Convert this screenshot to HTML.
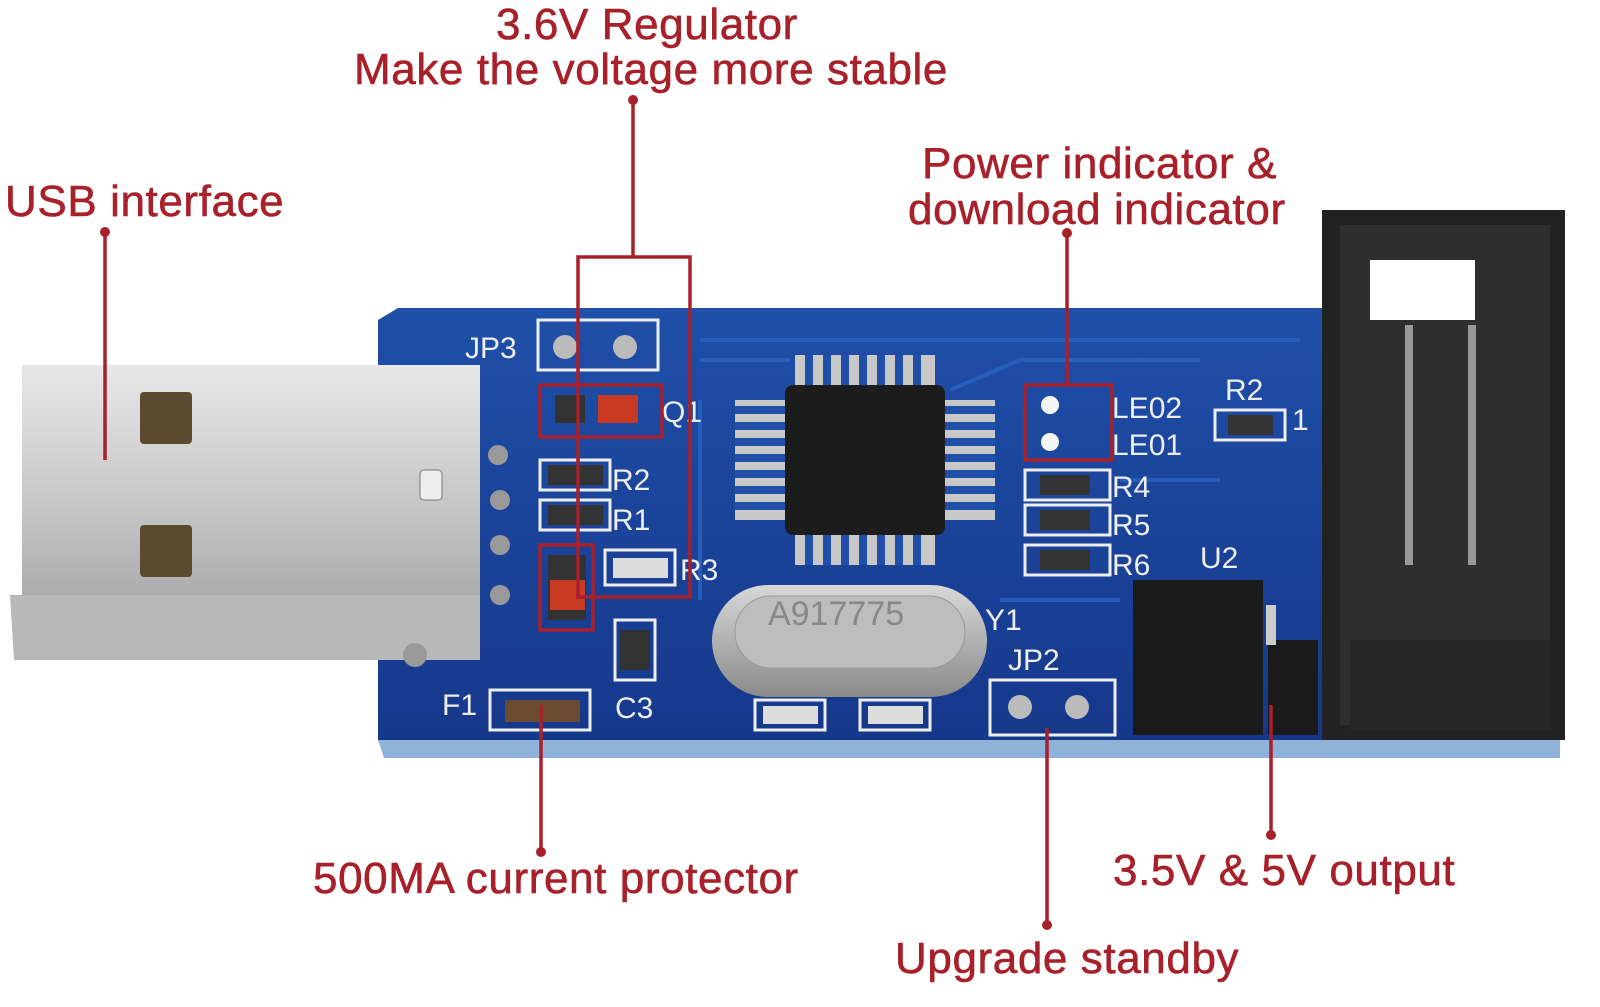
<!DOCTYPE html>
<html><head><meta charset="utf-8">
<style>
html,body{margin:0;padding:0;background:#fff;}
body{width:1600px;height:1007px;position:relative;overflow:hidden;font-family:"Liberation Sans",sans-serif;}
.t{position:absolute;color:#a8202a;font-size:44px;white-space:nowrap;line-height:1;letter-spacing:0.6px;-webkit-text-stroke:0.6px #a8202a;}
svg{position:absolute;left:0;top:0;}
</style></head><body>
<svg width="1600" height="1007" viewBox="0 0 1600 1007">
<defs>
<linearGradient id="pcb" x1="0" y1="0" x2="0" y2="1"><stop offset="0" stop-color="#1f4fa8"/><stop offset="1" stop-color="#15378a"/></linearGradient>
<linearGradient id="usb" x1="0" y1="0" x2="0" y2="1"><stop offset="0" stop-color="#e8e8e8"/><stop offset="0.5" stop-color="#c4c4c4"/><stop offset="1" stop-color="#9a9a9a"/></linearGradient>
<linearGradient id="xt" x1="0" y1="0" x2="0" y2="1"><stop offset="0" stop-color="#d8d8d8"/><stop offset="1" stop-color="#8a8a8a"/></linearGradient>
</defs>
<path d="M398 308 L1330 308 L1330 740 L1560 740 L1560 755 L384 755 L378 740 L378 320 Z" fill="url(#pcb)"/>
<path d="M378 740 L1560 740 L1560 758 L384 758 Z" fill="#8fb3d8"/>
<g stroke="#2a63c0" stroke-width="4" fill="none" opacity="0.8">
<path d="M700 340 L1300 340"/><path d="M700 360 L790 360"/><path d="M950 390 L1020 360 L1200 360"/><path d="M1120 480 L1220 480"/><path d="M700 400 L700 600"/><path d="M1000 600 L1120 600"/>
</g>
<rect x="22" y="365" width="458" height="295" fill="url(#usb)"/>
<path d="M10 595 L480 595 L480 660 L14 660 Z" fill="#b8b8b8"/>
<rect x="140" y="392" width="52" height="52" rx="4" fill="#5a4a30"/>
<rect x="140" y="525" width="52" height="52" rx="4" fill="#5a4a30"/>
<rect x="420" y="470" width="22" height="30" rx="4" fill="#eee" stroke="#777"/>
<g fill="#999"><circle cx="498" cy="455" r="10"/><circle cx="500" cy="500" r="10"/><circle cx="500" cy="545" r="10"/><circle cx="500" cy="595" r="10"/><circle cx="415" cy="655" r="12"/></g>
<g fill="#c8c8c8">
<rect x="795" y="355" width="140" height="30"/><rect x="795" y="535" width="140" height="30"/>
<rect x="735" y="400" width="60" height="120"/><rect x="945" y="400" width="50" height="120"/>
</g>
<g stroke="#1f4fa8" stroke-width="8">
<path d="M809 355V385M827 355V385M845 355V385M863 355V385M881 355V385M899 355V385M917 355V385"/>
<path d="M809 535V565M827 535V565M845 535V565M863 535V565M881 535V565M899 535V565M917 535V565"/>
<path d="M735 410H795M735 426H795M735 442H795M735 458H795M735 474H795M735 490H795M735 506H795"/>
<path d="M945 410H995M945 426H995M945 442H995M945 458H995M945 474H995M945 490H995M945 506H995"/>
</g>
<rect x="785" y="385" width="160" height="150" rx="8" fill="#1c1c1c"/>
<rect x="712" y="585" width="275" height="112" rx="56" fill="url(#xt)"/>
<rect x="735" y="596" width="230" height="72" rx="36" fill="#bdbdbd" stroke="#999"/>
<text x="768" y="625" font-size="34" fill="#888" font-family="Liberation Sans">A917775</text>
<g stroke="#eee" stroke-width="3" fill="none">
<rect x="538" y="320" width="120" height="50"/><rect x="1025" y="470" width="85" height="30"/><rect x="1025" y="505" width="85" height="30"/><rect x="1025" y="545" width="85" height="30"/>
<rect x="540" y="460" width="70" height="30"/><rect x="540" y="500" width="70" height="30"/><rect x="605" y="550" width="70" height="35"/>
<rect x="990" y="680" width="125" height="55"/><rect x="490" y="690" width="100" height="40"/><rect x="755" y="700" width="70" height="30"/><rect x="860" y="700" width="70" height="30"/>
<rect x="1215" y="410" width="70" height="30"/><rect x="615" y="620" width="40" height="60"/>
</g>
<g fill="#bbb"><circle cx="565" cy="347" r="12"/><circle cx="625" cy="347" r="12"/><circle cx="1020" cy="707" r="12"/><circle cx="1077" cy="707" r="12"/></g>
<g fill="#333"><rect x="555" y="395" width="30" height="28"/><rect x="1040" y="475" width="50" height="20"/><rect x="1040" y="510" width="50" height="20"/><rect x="1040" y="550" width="50" height="20"/><rect x="548" y="465" width="55" height="20"/><rect x="548" y="505" width="55" height="20"/><rect x="1228" y="415" width="45" height="20"/><rect x="548" y="555" width="38" height="65"/><rect x="620" y="630" width="30" height="40"/></g>
<rect x="598" y="395" width="40" height="28" fill="#c83a22"/><rect x="550" y="580" width="35" height="30" fill="#c83a22"/>
<rect x="505" y="700" width="75" height="22" fill="#6a4a30"/>
<g fill="#ddd"><rect x="613" y="558" width="55" height="20"/><rect x="763" y="706" width="55" height="18"/><rect x="868" y="706" width="55" height="18"/></g>
<g fill="#f5f5f5"><circle cx="1050" cy="405" r="9"/><circle cx="1050" cy="442" r="9"/></g>
<g font-family="Liberation Sans" font-size="30" fill="#eee">
<text x="465" y="358">JP3</text><text x="662" y="422">Q1</text><text x="612" y="490">R2</text><text x="612" y="530">R1</text><text x="680" y="580">R3</text><text x="1112" y="418">LE02</text><text x="1112" y="455">LE01</text><text x="1112" y="497">R4</text><text x="1112" y="535">R5</text><text x="1112" y="575">R6</text><text x="1225" y="400">R2</text><text x="1292" y="430">1</text><text x="1200" y="568">U2</text><text x="1008" y="670">JP2</text><text x="985" y="630">Y1</text><text x="442" y="715">F1</text><text x="615" y="718">C3</text>
</g>
<rect x="1133" y="580" width="130" height="155" fill="#1a1a1a"/><rect x="1268" y="640" width="50" height="95" fill="#1a1a1a"/>
<rect x="1266" y="605" width="10" height="40" fill="#ccc"/>
<rect x="1322" y="210" width="243" height="530" fill="#222"/>
<rect x="1340" y="225" width="210" height="500" fill="#2e2e2e"/>
<rect x="1370" y="260" width="105" height="60" fill="#fff"/>
<g fill="#999"><rect x="1405" y="325" width="8" height="240"/><rect x="1468" y="325" width="8" height="240"/></g>
<rect x="1350" y="640" width="200" height="90" fill="#262626"/>
<g stroke="#a8202a" stroke-width="3.5" fill="none">
<path d="M633 100 V257"/><rect x="578" y="257" width="112" height="340"/>
<rect x="540" y="385" width="122" height="52"/><rect x="540" y="545" width="53" height="85"/>
<rect x="1025" y="385" width="87" height="75"/><path d="M1067 233 V385"/>
<path d="M105 232 V460"/><path d="M541 705 V852"/><path d="M1047 728 V925"/><path d="M1271 705 V835"/>
</g>
<g fill="#a8202a"><circle cx="633" cy="100" r="5"/><circle cx="1067" cy="233" r="5"/><circle cx="105" cy="232" r="5"/><circle cx="541" cy="852" r="5"/><circle cx="1047" cy="925" r="5"/><circle cx="1271" cy="835" r="5"/></g>
</svg>
<div class="t" style="left:496px;top:3px;">3.6V Regulator</div>
<div class="t" style="left:354px;top:48px;">Make the voltage more stable</div>
<div class="t" style="left:5px;top:180px;">USB interface</div>
<div class="t" style="left:922px;top:142px;">Power indicator &amp;</div>
<div class="t" style="left:908px;top:188px;">download indicator</div>
<div class="t" style="left:313px;top:857px;">500MA current protector</div>
<div class="t" style="left:1113px;top:849px;">3.5V &amp; 5V output</div>
<div class="t" style="left:895px;top:937px;">Upgrade standby</div>
</body></html>
